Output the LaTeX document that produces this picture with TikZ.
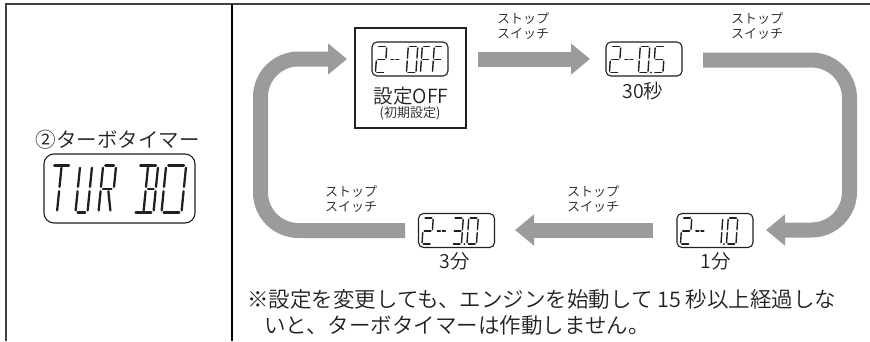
\documentclass[tikz,border=0pt]{standalone}
\usepackage{fontspec}
\setmainfont{Noto Sans CJK JP}[UprightFont=* DemiLight]
\usetikzlibrary{arrows.meta}
\definecolor{arrgray}{RGB}{155,155,158}
\definecolor{txt}{RGB}{35,31,32}
\definecolor{rulecol}{RGB}{64,64,64}
\newcommand\dsl{0.07}
\def\dw{9.5}\def\dh{26}\def\dg{1.4}
\newcommand\sgA{\draw[sg] ({\dg},{-\dh}) -- ({\dw-\dg},{-\dh});}
\newcommand\sgB{\draw[sg] ({\dw},{-\dh+\dg}) -- ({\dw},{-\dh/2-\dg});}
\newcommand\sgC{\draw[sg] ({\dw},{-\dh/2+\dg}) -- ({\dw},{-\dg});}
\newcommand\sgD{\draw[sg] ({\dg},0) -- ({\dw-\dg},0);}
\newcommand\sgE{\draw[sg] (0,{-\dh/2+\dg}) -- (0,{-\dg});}
\newcommand\sgF{\draw[sg] (0,{-\dh+\dg}) -- (0,{-\dh/2-\dg});}
\newcommand\sgG{\draw[sg] ({\dg},{-\dh/2}) -- ({\dw-\dg},{-\dh/2});}
\newcommand\sgM{\draw[sg] ({\dw/2+\dg},{-\dh/2}) -- ({\dw-\dg},{-\dh/2});}
\newcommand\sgI{\draw[sg] ({\dw/2},{-\dh+\dg}) -- ({\dw/2},{-\dh/2-\dg});}
\newcommand\sgL{\draw[sg] ({\dw/2},{-\dh/2+\dg}) -- ({\dw/2},{-\dg});}
\newcommand\sgK{\draw[sg] ({\dw*0.6},{-\dh/2+\dg}) -- ({\dw*0.9},{-\dg});}
\newcommand\sgDash{\draw[sg] (0,{-\dh/2}) -- ({\dw},{-\dh/2});}
\newcommand\lcddig[4]{\begin{scope}[shift={(#1,#2)},xslant=\dsl]\def\dw{#3}#4\end{scope}}
\newcommand\lcdtwo{\lcddig{4}{-4}{9.5}{\sgA\sgB\sgG\sgE\sgD}\lcddig{18.5}{-4}{3}{\sgDash}\lcddig{23.5}{-4}{3}{\sgDash}}
\newcommand\lcdzero{\sgA\sgB\sgC\sgD\sgE\sgF}
\begin{document}
\begin{tikzpicture}[x=1pt,y=-1pt,
  sg/.style={draw=txt,line width=1.4pt,line cap=round},
  lcdbox/.style={draw=txt,line width=1.1pt,rounded corners=5pt,minimum width=76pt,minimum height=34pt,inner sep=0pt},
  bigarr/.style={draw=arrgray,line width=15pt,-{Triangle[length=19pt,width=30pt]}},
  lab/.style={text=txt,font=\fontsize{13pt}{15pt}\selectfont,align=left,inner sep=0pt},
  mid/.style={text=txt,font=\fontsize{19.5pt}{22pt}\selectfont,inner sep=0pt},
  sml/.style={text=txt,font=\fontsize{13pt}{15pt}\selectfont,inner sep=0pt},
  note/.style={text=txt,font=\fontsize{21.5pt}{26pt}\selectfont,inner sep=0pt,anchor=west}]
\useasboundingbox (0,0) rectangle (870,341);
% table rules
\draw[rulecol,line width=2pt] (6,341) -- (6,4) -- (870,4);
\draw[black,line width=1.3pt] (232,4) -- (232,341);
% left cell
\node[text=txt,font=\fontsize{20.5pt}{24pt}\selectfont,inner sep=0pt] (title) at (117.5,139.5) {②ターボタイマー};
\node[lcdbox,minimum width=151pt,minimum height=69pt,rounded corners=10pt] (lcdturbo) at (119.5,188.5) {};
\begin{scope}[shift={(lcdturbo.south west)}]
\def\dh{47}\def\dg{2.2}\renewcommand\dsl{0.1}
\tikzset{sg/.append style={line width=2.3pt}}
\lcddig{4}{-11}{19}{\sgA\sgI\sgL}
\lcddig{32}{-11}{12}{\sgB\sgC\sgD\sgE\sgF}
\lcddig{55}{-11}{13}{\sgA\sgB\sgK\sgE\sgF\sgG}
\lcddig{90}{-11}{20}{\sgA\sgB\sgC\sgD\sgM\sgI\sgL}
\lcddig{118}{-11}{20}{\lcdzero}
\end{scope}
% step 1: OFF
\node[draw=txt,line width=1.2pt,minimum width=111pt,minimum height=100pt,inner sep=0pt] (offframe) at (410.5,78) {};
\node[lcdbox] (lcdoff) at (410,59) {};
\begin{scope}[shift={(lcdoff.south west)}]
\lcdtwo
\lcddig{35}{-4}{9.5}{\lcdzero}
\lcddig{49}{-4}{8.5}{\sgA\sgF\sgE\sgG}
\lcddig{61}{-4}{8.5}{\sgA\sgF\sgE\sgG}
\end{scope}
\node[mid] (offtxt) at (411,96) {設定OFF};
\node[sml] (offsub) at (410,113) {(初期設定)};
% step 2: 30 s
\node[lcdbox] (lcd05) at (644,59) {};
\begin{scope}[shift={(lcd05.south west)}]
\lcdtwo
\lcddig{33}{-4}{9.5}{\lcdzero}
\fill[txt] (45.5,-4) circle (1pt);
\lcddig{48}{-4}{9.5}{\sgA\sgF\sgG\sgC\sgD}
\end{scope}
\node[mid] (t05) at (643,91) {30秒};
% step 3: 1 min
\node[lcdbox] (lcd10) at (715,230.5) {};
\begin{scope}[shift={(lcd10.south west)}]
\lcdtwo
\lcddig{35}{-4}{9.5}{\sgB\sgC}
\fill[txt] (47.5,-4) circle (1pt);
\lcddig{50}{-4}{9.5}{\lcdzero}
\end{scope}
\node[mid] (t10) at (716,261) {1分};
% step 4: 3 min
\node[lcdbox] (lcd30) at (456.5,230.5) {};
\begin{scope}[shift={(lcd30.south west)}]
\lcdtwo
\lcddig{34}{-4}{9.5}{\sgA\sgB\sgG\sgC\sgD}
\fill[txt] (46.5,-4) circle (1pt);
\lcddig{49}{-4}{9.5}{\lcdzero}
\end{scope}
\node[mid] (t30) at (455,261) {3分};
% labels
\node[lab] (sw1) at (523,26.5) {ストップ\\スイッチ};
\node[lab] (sw2) at (757,26.5) {ストップ\\スイッチ};
\node[lab] (sw3) at (593,199.5) {ストップ\\スイッチ};
\node[lab] (sw4) at (351,199.5) {ストップ\\スイッチ};
% arrows
\coordinate (a1s) at (478,59);
\coordinate (a1e) at (590,59);
\coordinate (a2s) at (703,60);
\coordinate (a2c) at (849.5,230);
\coordinate (a2e) at (766,230);
\coordinate (a3s) at (653,230);
\coordinate (a3e) at (515,230);
\coordinate (a4s) at (405,230.5);
\coordinate (a4c) at (260.5,230.5);
\coordinate (a4e) at (347,59);
\draw[bigarr] (a1s) -- (a1e);
\draw[bigarr,rounded corners=38pt] (a2s) -| (a2c) -- (a2e);
\draw[bigarr] (a3s) -- (a3e);
\draw[bigarr,rounded corners=38pt] (a4s) -- (a4c) |- (a4e);
% note
\node[note] (note1) at (247,299) {※設定を変更しても、エンジンを始動して 15 秒以上経過しな};
\node[note] (note2) at (264,325) {いと、ターボタイマーは作動しません。};
\end{tikzpicture}
\end{document}
